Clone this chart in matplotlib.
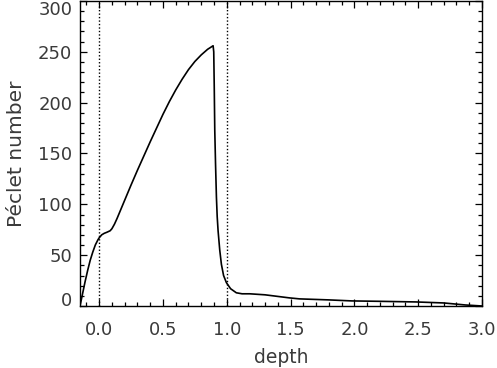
import matplotlib
matplotlib.use("Agg")
import matplotlib.pyplot as plt
from matplotlib.ticker import MultipleLocator

depth = [-0.15, -0.13, -0.11, -0.09, -0.07, -0.05, -0.03, -0.01, 0.0, 0.02,
         0.04, 0.06, 0.086, 0.1, 0.12, 0.14, 0.16, 0.18, 0.2, 0.25,
         0.3, 0.35, 0.4, 0.45, 0.5, 0.55, 0.6, 0.65, 0.7, 0.75,
         0.8, 0.85, 0.875, 0.893, 0.898, 0.902, 0.906, 0.912, 0.919, 0.925,
         0.932, 0.945, 0.958, 0.975, 0.997, 1.03, 1.075, 1.12, 1.18, 1.3,
         1.49, 1.57, 1.8, 1.98, 2.2, 2.48, 2.7, 2.87, 3.0]
peclet = [0, 12, 24, 35, 45, 53, 60, 65, 67, 70,
          71.5, 72.5, 74, 76, 80.5, 86, 92, 98, 104, 119,
          133.5, 147.5, 161.5, 175, 188.5, 201, 212.5, 223, 232.5, 240.5,
          247, 252.5, 254.5, 256, 250, 215, 173, 140, 107, 88,
          74, 55, 41, 30, 23, 17, 13, 12, 12, 11,
          8, 7, 6, 5, 4.6, 4, 3, 1, 0]

vlines = [0.0, 1.0]
yticks = [0, 50, 100, 150, 200, 250, 300]
xticks = [0.0, 0.5, 1.0, 1.5, 2.0, 2.5, 3.0]

fig = plt.figure(figsize=(4.97, 3.68), dpi=100)
ax = fig.add_axes([80 / 497, 62 / 368, 402 / 497, 305 / 368])

ax.plot(depth, peclet, color="black", lw=1.2)
for v in vlines:
    ax.axvline(v, color="black", lw=1.0, ls=(0, (1, 1.5)))

ax.set_xlim(-0.15, 3.0)
ax.set_ylim(0, 300)
ax.set_xticks(xticks)
ax.set_xticklabels(["%.1f" % x for x in xticks])
ax.set_yticks(yticks)
ax.set_yticklabels([str(y) for y in yticks])
ax.xaxis.set_minor_locator(MultipleLocator(0.1))
ax.yaxis.set_minor_locator(MultipleLocator(10))

txt = "#3a3a3a"
ax.tick_params(which="both", direction="in", top=True, right=True,
               labelsize=13, labelcolor=txt, width=0.9)
ax.tick_params(which="major", length=5)
ax.tick_params(which="minor", length=2.8)
ax.tick_params(axis="x", pad=11)
ax.tick_params(axis="y", pad=5.5)
for s in ax.spines.values():
    s.set_linewidth(1.0)

# keep the end labels inside the figure like the original
ylabs = ax.get_yticklabels()
ylabs[0].set_va("baseline")
ylabs[-1].set_va("top")

ax.set_xlabel("depth", fontsize=13.5, color=txt, labelpad=6)
ax.set_ylabel("Péclet number", fontsize=14.5, color=txt, labelpad=9)

fig.savefig("out.png", dpi=100)
